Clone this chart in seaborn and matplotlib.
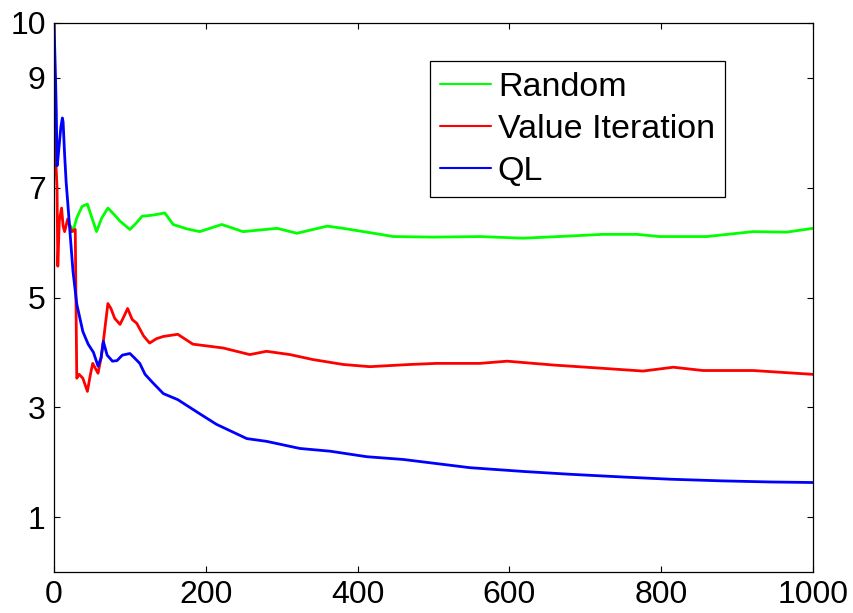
import numpy as np
import pandas as pd
import matplotlib
matplotlib.use("Agg")
import matplotlib.pyplot as plt
import seaborn as sns

# ---- data ----
random_x = [22, 25, 30, 37, 44, 50, 56, 63, 71, 80, 87, 100, 108, 116, 130, 146, 157, 175,
            192, 221, 249, 294, 320, 360, 381, 430, 447, 499, 561, 618, 680, 723, 768, 798,
            860, 921, 965, 1000]
random_y = [6.3, 6.2, 6.45, 6.66, 6.7, 6.45, 6.2, 6.45, 6.63, 6.5, 6.39, 6.24, 6.35, 6.48,
            6.5, 6.54, 6.33, 6.25, 6.2, 6.33, 6.2, 6.26, 6.17, 6.3, 6.26, 6.15, 6.11, 6.1,
            6.11, 6.08, 6.12, 6.15, 6.15, 6.11, 6.11, 6.2, 6.19, 6.26]

vi_x = [0, 1, 2, 4, 5, 7, 10, 12, 14, 18, 23, 28, 29, 30, 33, 38, 44, 48, 51, 58, 62, 65,
        71, 75, 80, 87, 92, 97, 103, 109, 118, 126, 135, 144, 163, 183, 223, 258, 280, 311,
        341, 381, 416, 469, 504, 561, 597, 658, 723, 776, 816, 855, 921, 1000]
vi_y = [10, 8.2, 7.6, 7.0, 5.57, 6.4, 6.63, 6.3, 6.2, 6.43, 6.2, 6.24, 4.88, 3.53, 3.6,
        3.53, 3.29, 3.6, 3.8, 3.62, 3.9, 4.2, 4.89, 4.8, 4.62, 4.51, 4.65, 4.8, 4.6, 4.53,
        4.3, 4.17, 4.25, 4.29, 4.33, 4.15, 4.08, 3.96, 4.02, 3.96, 3.87, 3.78, 3.74, 3.78,
        3.8, 3.8, 3.84, 3.77, 3.71, 3.66, 3.73, 3.67, 3.67, 3.6]

ql_x = [0, 1, 2, 3, 4, 5, 7, 9, 11, 12, 14, 16, 18, 21, 25, 30, 38, 45, 52, 58, 62, 65,
        70, 77, 83, 90, 100, 106, 113, 120, 130, 144, 163, 190, 214, 254, 280, 324, 364,
        412, 460, 548, 620, 680, 750, 812, 880, 943, 1000]
ql_y = [10, 9.5, 9.0, 8.4, 7.4, 7.5, 7.8, 8.1, 8.27, 8.2, 7.6, 7.1, 6.75, 6.2, 5.48, 4.88,
        4.38, 4.15, 4.0, 3.75, 3.9, 4.2, 3.95, 3.84, 3.85, 3.95, 3.98, 3.9, 3.8, 3.6, 3.45,
        3.25, 3.14, 2.9, 2.69, 2.43, 2.38, 2.25, 2.2, 2.1, 2.05, 1.9, 1.83, 1.78, 1.73,
        1.69, 1.66, 1.64, 1.63]

series_names = ["Random", "Value Iteration", "QL"]
series_colors = ["#00ff00", "#ff0000", "#0000ff"]
x_ticks = [0, 200, 400, 600, 800, 1000]
y_ticks = [1, 3, 5, 7, 9, 10]

df = pd.concat([
    pd.DataFrame({"x": random_x, "y": random_y, "series": series_names[0]}),
    pd.DataFrame({"x": vi_x, "y": vi_y, "series": series_names[1]}),
    pd.DataFrame({"x": ql_x, "y": ql_y, "series": series_names[2]}),
], ignore_index=True)

sns.set_style("ticks")
plt.rcParams["font.family"] = ["Liberation Sans", "DejaVu Sans"]
plt.rcParams["text.color"] = "black"
plt.rcParams["xtick.labelcolor"] = "black"
plt.rcParams["ytick.labelcolor"] = "black"

fig = plt.figure(figsize=(8.54, 6.13), dpi=100)
ax = fig.add_axes([54 / 854, 1 - 572 / 613, (813 - 54) / 854, (572 - 23) / 613])

sns.lineplot(data=df, x="x", y="y", hue="series", hue_order=series_names,
             palette=dict(zip(series_names, series_colors)), estimator=None,
             sort=False, linewidth=2.0, ax=ax)

ax.set_xlim(0, 1000)
ax.set_ylim(0, 10)
ax.set_xticks(x_ticks)
ax.set_yticks(y_ticks)
ax.set_xlabel("")
ax.set_ylabel("")
for s in ax.spines.values():
    s.set_visible(True)
    s.set_linewidth(0.9)
    s.set_color("black")
ax.tick_params(direction="in", length=4, width=0.8, labelsize=23, pad=6,
               top=True, right=True, colors="black", labelcolor="black")

leg = ax.legend(loc="upper left", bbox_to_anchor=(0.495, 0.93), fontsize=24.5,
                frameon=True, fancybox=False, edgecolor="black", framealpha=1,
                handlelength=1.5, handletextpad=0.2, labelspacing=0.33,
                borderpad=0.3, borderaxespad=0)
leg.get_frame().set_linewidth(0.9)
for t in leg.get_texts():
    t.set_color("black")
for line in leg.get_lines():
    line.set_linewidth(1.5)

fig.savefig("out.png", dpi=100)
